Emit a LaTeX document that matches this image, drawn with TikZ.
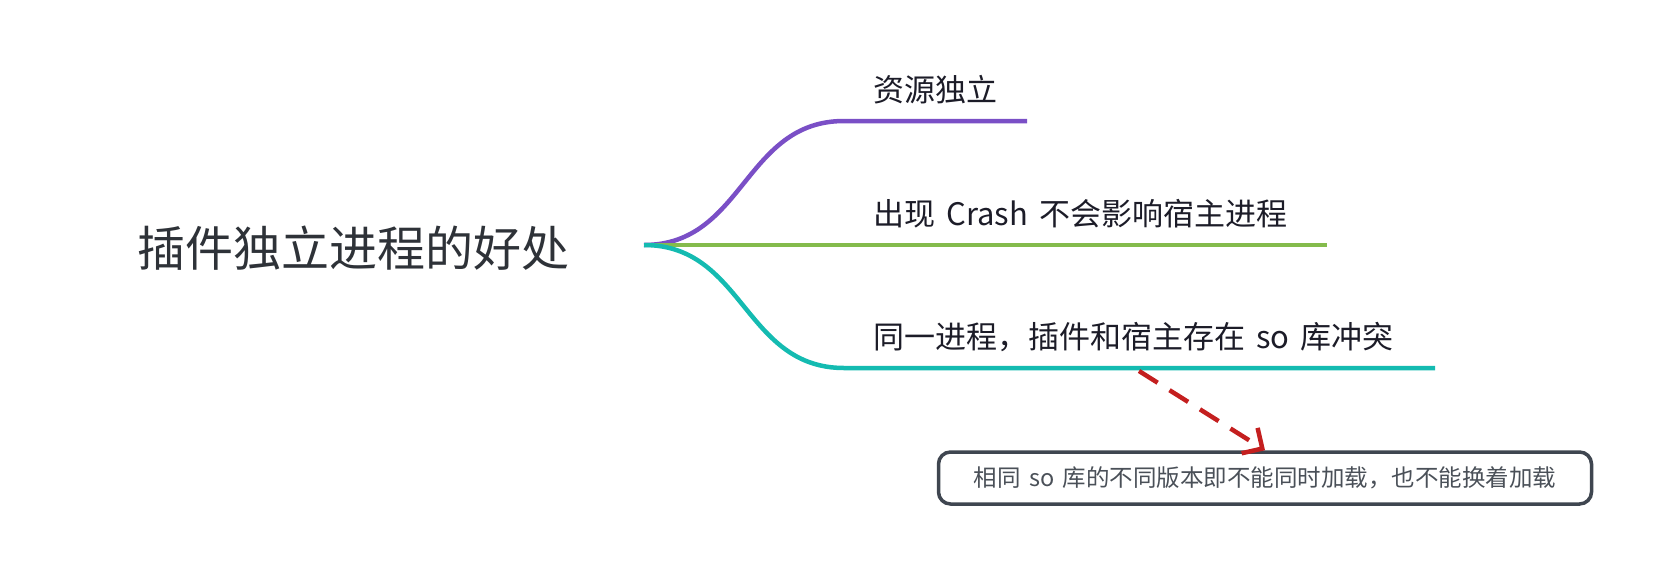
\documentclass[tikz,border=0pt]{standalone}
\usepackage{fontspec}
\usepackage{xcolor}
\newfontfamily\cjk[WordSpace=1.6]{Noto Sans CJK SC}
\usetikzlibrary{arrows.meta}
\definecolor{topPurple}{HTML}{7A4FC6}
\definecolor{midGreen}{HTML}{84BB4C}
\definecolor{lowTeal}{HTML}{14BBB1}
\definecolor{noteRed}{HTML}{C41F1F}
\definecolor{rootText}{HTML}{2E3238}
\definecolor{labelText}{HTML}{1C1C28}
\definecolor{noteText}{HTML}{4A5058}
\definecolor{noteBorder}{HTML}{3F4650}

\begin{document}
\begin{tikzpicture}
[x=1pt, y=-1pt,
 branchLine/.style={line width=4.5pt},
 labelNode/.style={anchor=base west, inner sep=0pt, text=labelText, font=\cjk\fontsize{31}{31}\selectfont},
 noteBox/.style={draw=noteBorder, line width=3.5pt, rounded corners=12pt, minimum width=653pt, minimum height=52pt, inner sep=0pt, text=noteText, font=\cjk\fontsize{23.5}{23.5}\selectfont},
 noteArrow/.style={draw=noteRed, line width=4.5pt, dash pattern=on 22pt off 14pt, -{Straight Barb[length=15pt, width=30pt]}}]

\useasboundingbox (0,0) rectangle (1656,571);

\node (root) at (137,266) [anchor=base west, inner sep=0pt, text=rootText, font=\cjk\fontsize{48}{48}\selectfont] {插件独立进程的好处};
\coordinate (hub) at (644,245);

 \foreach \name/\col/\y/\xend/\txt in {
top/topPurple/121/1027/资源独立,
mid/midGreen/245/1327/出现 Crash 不会影响宿主进程,
low/lowTeal/368/1435/同一进程，插件和宿主存在 so 库冲突
 }
 {
          \coordinate (B\name) at (844,\y);
          \coordinate (E\name) at (\xend,\y);
          \draw[branchLine, draw=\col] (hub) .. controls (744,245) and (744,\y) .. (B\name) -- (E\name);
          \node (L\name) at (873,\y-20) [labelNode] {\txt};
 }

\node (note) at (1265,478) [noteBox] {相同 so 库的不同版本即不能同时加载，也不能换着加载};
\coordinate (noteStart) at (1139,371);
\draw[noteArrow] (noteStart) -- (note.north);
        \end{tikzpicture}
\end{document}
